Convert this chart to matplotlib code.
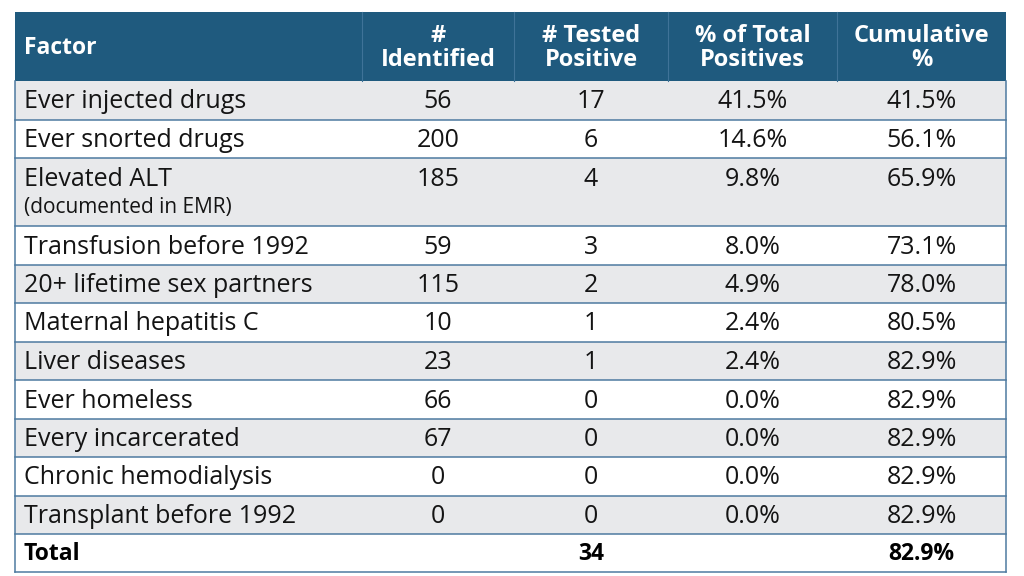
import matplotlib.pyplot as plt
from matplotlib.patches import Rectangle

# table content
headers = ['Factor', '#\nIdentified', '# Tested\nPositive', '% of Total\nPositives', 'Cumulative\n%']
factors = ['Ever injected drugs', 'Ever snorted drugs', 'Elevated ALT', 'Transfusion before 1992',
           '20+ lifetime sex partners', 'Maternal hepatitis C', 'Liver diseases', 'Ever homeless',
           'Every incarcerated', 'Chronic hemodialysis', 'Transplant before 1992']
notes = ['', '', '(documented in EMR)', '', '', '', '', '', '', '', '']
identified = [56, 200, 185, 59, 115, 10, 23, 66, 67, 0, 0]
tested_pos = [17, 6, 4, 3, 2, 1, 1, 0, 0, 0, 0]
pct_total = [41.5, 14.6, 9.8, 8.0, 4.9, 2.4, 2.4, 0.0, 0.0, 0.0, 0.0]
cumulative = [41.5, 56.1, 65.9, 73.1, 78.0, 80.5, 82.9, 82.9, 82.9, 82.9, 82.9]
total_label = 'Total'
total_tested = 34
total_cum = 82.9

HEAD = '#1f5a7e'
STRIPE = '#e8e9eb'
LINE = '#4e7aa0'
FONT = 'Open Sans'
TXT = '#141414'

col_x = [15, 362, 514, 668, 837, 1006]
top, head_bot = 12, 81
row_h = [38.5] * len(factors)
row_h[2] = 68

fig = plt.figure(figsize=(10.24, 5.76), dpi=100)
ax = fig.add_axes([0, 0, 1, 1])
ax.set_xlim(0, 1024)
ax.set_ylim(576, 0)
ax.axis('off')

# header
ax.add_patch(Rectangle((col_x[0], top), col_x[-1] - col_x[0], head_bot - top, color=HEAD, lw=0))
for x in col_x[1:-1]:
    ax.plot([x, x], [top, head_bot], color='#3f7398', lw=0.8)
ax.text(24, (top + head_bot) / 2 + 1, headers[0], color='white', fontsize=16.5, fontweight='bold',
        family=FONT, va='center', ha='left')
for i, h in enumerate(headers[1:], start=1):
    cx = (col_x[i] + col_x[i + 1]) / 2
    ax.text(cx, (top + head_bot) / 2 + 2, h, color='white', fontsize=17, fontweight='bold',
            family=FONT, va='center', ha='center', linespacing=1.0)

y = head_bot
centers = [(col_x[i] + col_x[i + 1]) / 2 for i in range(1, 5)]
for r in range(len(factors)):
    h = row_h[r]
    if r % 2 == 0:
        ax.add_patch(Rectangle((col_x[0], y), col_x[-1] - col_x[0], h, color=STRIPE, lw=0))
    ty = y + 21
    ax.text(24, ty, factors[r], fontsize=18, family=FONT, va='center', ha='left', color=TXT)
    if notes[r]:
        ax.text(24, ty + 28, notes[r], fontsize=15, family=FONT, va='center', ha='left', color=TXT)
    vals = [str(identified[r]), str(tested_pos[r]), f'{pct_total[r]:.1f}%', f'{cumulative[r]:.1f}%']
    for cx, v in zip(centers, vals):
        ax.text(cx, ty, v, fontsize=18, family=FONT, va='center', ha='center', color=TXT)
    y += h
    ax.plot([col_x[0], col_x[-1]], [y, y], color=LINE, lw=1.1)

# total row
ty = y + 20
ax.text(24, ty, total_label, fontsize=16.5, fontweight='bold', family=FONT, va='center', ha='left', color='black')
ax.text(centers[1], ty, str(total_tested), fontsize=16.5, fontweight='bold', family=FONT, va='center', ha='center', color='black')
ax.text(centers[3], ty, f'{total_cum:.1f}%', fontsize=16.5, fontweight='bold', family=FONT, va='center', ha='center', color='black')
bottom = y + 38
ax.plot([col_x[0], col_x[-1]], [bottom, bottom], color=LINE, lw=1.1)
ax.plot([col_x[0], col_x[0]], [head_bot, bottom], color=LINE, lw=1.1)
ax.plot([col_x[-1], col_x[-1]], [head_bot, bottom], color=LINE, lw=1.1)

fig.savefig('out.png', dpi=100)
